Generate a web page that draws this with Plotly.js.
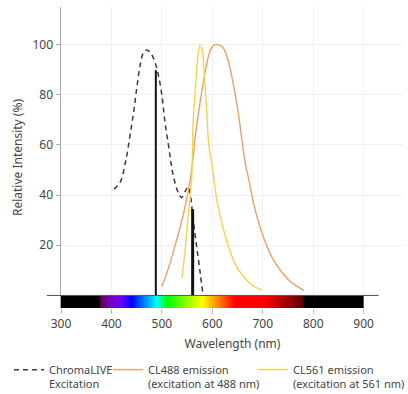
<!DOCTYPE html>
<html>
<head>
<meta charset="utf-8">
<script src="https://cdn.plot.ly/plotly-3.0.1.min.js"></script>
<style>
  html, body { margin: 0; padding: 0; background: #fff; }
  #chart { width: 408px; height: 394px; }
</style>
</head>
<body>
<div id="chart"></div>
<script>
// ---- Data ----
var excWavelength = [405, 417, 428, 437, 445, 451, 457, 463, 470, 478, 486, 493, 500, 506, 513, 518, 523, 533, 539, 546, 552, 557, 562, 569, 576, 581];
var excIntensity  = [42.4, 45, 53.3, 64, 74.6, 83.9, 91.9, 96.6, 97.9, 96.6, 93.2, 87.9, 79.9, 69.3, 60, 53, 47.4, 40.7, 39, 41.4, 43.4, 39.4, 30.1, 19.5, 8.9, 0.9];

var cl488Wavelength = [500, 508, 516, 524, 533, 546, 556, 562, 566, 576, 586, 595, 603, 609, 616, 622, 632, 642, 652, 660, 666, 671, 685, 701, 721, 748, 765, 782];
var cl488Intensity  = [3.5, 8, 12.8, 18.5, 24.8, 35.4, 46, 55, 63, 77.3, 89.2, 97.2, 99.8, 100, 99.6, 98.6, 93.2, 83.9, 72, 60, 52, 47.4, 34.1, 23.4, 14.2, 6.9, 4, 2];

var cl561Wavelength = [540, 546, 552, 559, 562, 567, 571, 576, 580, 584, 589, 593, 600, 609, 619, 632, 648, 668, 680, 698];
var cl561Intensity  = [6.9, 18.1, 31.4, 46, 69.3, 83.9, 94.6, 99.9, 97.9, 87.9, 73.3, 60, 51, 38.1, 28.8, 19.5, 11.5, 6.2, 4, 2];

var laserWavelengths = [488, 561];
var laserHeights     = [89.8, 34.4];

var legendNames = ["ChromaLIVE<br>Excitation", "CL488 emission<br>(excitation at 488 nm)", "CL561 emission<br>(excitation at 561 nm)"];

var xTickVals = [300, 400, 500, 600, 700, 800, 900];
var yTickVals = [20, 40, 60, 80, 100];

// visible spectrum bar stops (wavelength nm, colour)
var spectrumWl     = [300, 375, 380, 400, 420, 440, 490, 510, 580, 645, 700, 780, 781, 900];
var spectrumColors = ["#000000", "#000000", "#610061", "#7a00c8", "#6a00ff", "#0000ff", "#00ffff", "#00ff00", "#ffff00", "#ff0000", "#ff0000", "#600000", "#000000", "#000000"];

// ---- layout constants ----
var W = 408, H = 394;
var M = { l: 61, r: 4, t: 7, b: 86 };
var xRange = [300, 980];
var yRange = [-5, 115];
var baseLineX = [272, 930];
var plotW = W - M.l - M.r, plotH = H - M.t - M.b;
function px2paperX(px) { return (px - M.l) / plotW; }
function px2paperY(py) { return (H - M.b - py) / plotH; }

// build the spectrum gradient image
var cv = document.createElement('canvas');
cv.width = 600; cv.height = 10;
var ctx = cv.getContext('2d');
var grad = ctx.createLinearGradient(0, 0, cv.width, 0);
var wMin = spectrumWl[0], wMax = spectrumWl[spectrumWl.length - 1];
for (var i = 0; i < spectrumWl.length; i++) {
  grad.addColorStop((spectrumWl[i] - wMin) / (wMax - wMin), spectrumColors[i]);
}
ctx.fillStyle = grad;
ctx.fillRect(0, 0, cv.width, cv.height);
var spectrumSrc = cv.toDataURL('image/png');

var traces = [
  {
    x: excWavelength, y: excIntensity, type: 'scatter', mode: 'lines', legend: 'legend',
    name: legendNames[0], line: { color: '#3a3a3a', width: 1.5, dash: '5px,4px', shape: 'spline' }
  },
  {
    x: cl488Wavelength, y: cl488Intensity, type: 'scatter', mode: 'lines', legend: 'legend2',
    name: legendNames[1], line: { color: '#f0a064', width: 1.4, shape: 'spline' }
  },
  {
    x: cl561Wavelength, y: cl561Intensity, type: 'scatter', mode: 'lines', legend: 'legend3',
    name: legendNames[2], line: { color: '#f9d14e', width: 1.4, shape: 'spline' }
  },
  {
    x: [laserWavelengths[0], laserWavelengths[0]], y: [0, laserHeights[0]], type: 'scatter', mode: 'lines',
    showlegend: false, hoverinfo: 'skip', line: { color: '#111111', width: 2 }
  },
  {
    x: [laserWavelengths[1], laserWavelengths[1]], y: [0, laserHeights[1]], type: 'scatter', mode: 'lines',
    showlegend: false, hoverinfo: 'skip', line: { color: '#111111', width: 3 }
  }
];

var FONT = 'Noto Sans, Open Sans, DejaVu Sans, sans-serif';
function mkLegend(textPx) {
  return {
    orientation: 'v', x: px2paperX(textPx - 40), xanchor: 'left', y: px2paperY(356), yanchor: 'top',
    valign: 'top', font: { family: FONT, size: 11, color: '#444' }, bgcolor: 'rgba(0,0,0,0)'
  };
}

var span = xRange[1] - xRange[0];
var layout = {
  width: W, height: H,
  margin: { l: M.l, r: M.r, t: M.t, b: M.b, autoexpand: false },
  paper_bgcolor: '#ffffff', plot_bgcolor: '#ffffff',
  font: { family: FONT, size: 11, color: '#444' },
  showlegend: true,
  legend: mkLegend(49),
  legend2: mkLegend(148),
  legend3: mkLegend(293),
  xaxis: {
    range: xRange, tickvals: xTickVals, ticks: 'outside', ticklen: 5, tickcolor: '#bbb',
    showgrid: true, gridcolor: '#f0f0f0', zeroline: false, showline: false,
    tickfont: { size: 12, color: '#444' },
    title: { text: 'Wavelength (nm)', font: { size: 12, color: '#444' }, standoff: 8 }
  },
  yaxis: {
    range: yRange, tickvals: yTickVals, ticks: 'outside', ticklen: 4, tickcolor: '#aaa',
    showgrid: true, gridcolor: '#f0f0f0', zeroline: false, showline: true, linecolor: '#aaa', linewidth: 1.5,
    tickfont: { size: 12, color: '#444' }, automargin: true,
    title: { text: 'Relative Intensity (%)', font: { size: 12, color: '#444' }, standoff: 7 }
  },
  shapes: [
    {
      type: 'line', xref: 'paper', yref: 'paper',
      x0: (baseLineX[0] - xRange[0]) / span, x1: (baseLineX[1] - xRange[0]) / span,
      y0: (0 - yRange[0]) / (yRange[1] - yRange[0]), y1: (0 - yRange[0]) / (yRange[1] - yRange[0]),
      line: { color: '#555', width: 1 }, layer: 'above'
    }
  ],
  images: [
    {
      source: spectrumSrc, xref: 'x', yref: 'y', x: wMin, y: 0,
      sizex: wMax - wMin, sizey: 0 - yRange[0], sizing: 'stretch',
      xanchor: 'left', yanchor: 'top', layer: 'above'
    }
  ]
};

Plotly.newPlot('chart', traces, layout, { displayModeBar: false, staticPlot: true });
</script>
</body>
</html>
